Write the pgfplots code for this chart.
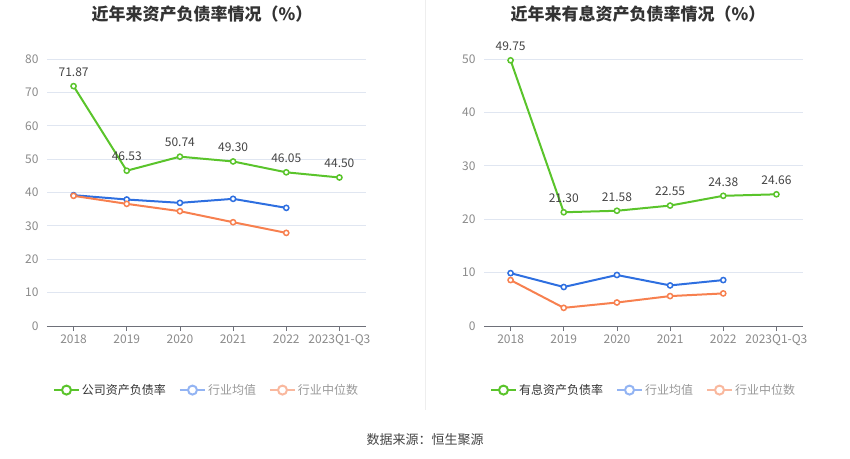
\documentclass[border=0pt]{standalone}
\usepackage{pgfplots}
\pgfplotsset{compat=1.18}
\usepackage{fontspec}
\setmainfont{Noto Sans CJK SC}
\definecolor{cgreen}{HTML}{5AC42B}
\definecolor{cblue}{HTML}{2E6FE0}
\definecolor{corange}{HTML}{F7804F}
\definecolor{lblue}{HTML}{93B4F3}
\definecolor{lorange}{HTML}{F9B89E}
\definecolor{gridc}{HTML}{E0E6F1}
\definecolor{axisc}{HTML}{6E7079}
\definecolor{tickc}{HTML}{8A8A8A}
\definecolor{titlec}{HTML}{333333}
\definecolor{labc}{HTML}{444444}
\definecolor{divc}{HTML}{EEEEEE}
\definecolor{leggray}{HTML}{999999}
\pgfplotsset{
  legimg/.style={legend image code/.code={
    \draw[color=#1,line width=2pt] (0pt,0pt) -- (25pt,0pt);
    \draw[color=#1,line width=2pt,fill=white] (12.5pt,0pt) circle (4.5pt);}},
  commonax/.style={
    scale only axis, width=319pt, height=267pt,
    xmin=-0.5, xmax=5.5, ymin=0,
    xtick={0,1,2,3,4,5},
    xticklabels={2018,2019,2020,2021,2022,2023Q1-Q3},
    axis lines*=left,
    y axis line style={draw=none},
    x axis line style={color=axisc, line width=0.8pt},
    ytick style={draw=none},
    xtick style={color=axisc, line width=0.8pt},
    tick align=outside, major tick length=5pt,
    ymajorgrids, grid style={color=gridc, line width=0.8pt},
    tick label style={font=\fontsize{12}{12}\selectfont, text=tickc},
    /pgf/number format/assume math mode=true,
    clip=false,
    legend style={at={(0.5,-0.24)}, anchor=center, draw=none, fill=none,
      legend columns=-1, font=\fontsize{12}{12}\selectfont,
      /tikz/every even column/.append style={column sep=11pt}},
    legend cell align=left,
  },
  serie/.style={color=#1, line width=2pt, mark=*, mark size=2.6pt,
    mark options={fill=white, draw=#1, line width=1.5pt}},
  lab/.style={nodes near coords,
    every node near coord/.append style={font=\fontsize{12}{12}\selectfont, text=labc, anchor=center, yshift=14pt, inner sep=0pt},
    /pgf/number format/fixed, /pgf/number format/precision=2, /pgf/number format/fixed zerofill},
}
\begin{document}
\begin{tikzpicture}[x=1pt,y=1pt]
\path[use as bounding box] (0,0) rectangle (850,458);
\draw[color=divc, line width=1pt] (425,48) -- (425,458);
\node[font=\bfseries\fontsize{17}{17}\selectfont, text=titlec] at (202,444) {近年来资产负债率情况（\%）};
\node[font=\bfseries\fontsize{17}{17}\selectfont, text=titlec] at (638,444) {近年来有息资产负债率情况（\%）};
\node[font=\fontsize{13}{13}\selectfont, text=labc] at (425,18) {数据来源：恒生聚源};

\begin{axis}[commonax, at={(47pt,132pt)}, anchor=south west, ymax=80, ytick={0,10,...,80}]
\addplot[serie=cblue, forget plot] coordinates {(0,39.2) (1,37.9) (2,36.9) (3,38.1) (4,35.4)};
\addplot[serie=corange, forget plot] coordinates {(0,39.0) (1,36.6) (2,34.4) (3,31.1) (4,27.9)};
\addplot[serie=cgreen, lab, forget plot] coordinates {(0,71.87) (1,46.53) (2,50.74) (3,49.30) (4,46.05) (5,44.50)};
\addlegendimage{legimg=cgreen}\addlegendentry{\textcolor{titlec}{公司资产负债率}}
\addlegendimage{legimg=lblue}\addlegendentry{\textcolor{leggray}{行业均值}}
\addlegendimage{legimg=lorange}\addlegendentry{\textcolor{leggray}{行业中位数}}
\end{axis}

\begin{axis}[commonax, at={(484pt,132pt)}, anchor=south west, ymax=50, ytick={0,10,...,50}]
\addplot[serie=cblue, forget plot] coordinates {(0,9.9) (1,7.3) (2,9.55) (3,7.6) (4,8.6)};
\addplot[serie=corange, forget plot] coordinates {(0,8.6) (1,3.4) (2,4.4) (3,5.6) (4,6.1)};
\addplot[serie=cgreen, lab, forget plot] coordinates {(0,49.75) (1,21.30) (2,21.58) (3,22.55) (4,24.38) (5,24.66)};
\addlegendimage{legimg=cgreen}\addlegendentry{\textcolor{titlec}{有息资产负债率}}
\addlegendimage{legimg=lblue}\addlegendentry{\textcolor{leggray}{行业均值}}
\addlegendimage{legimg=lorange}\addlegendentry{\textcolor{leggray}{行业中位数}}
\end{axis}
\end{tikzpicture}
\end{document}
